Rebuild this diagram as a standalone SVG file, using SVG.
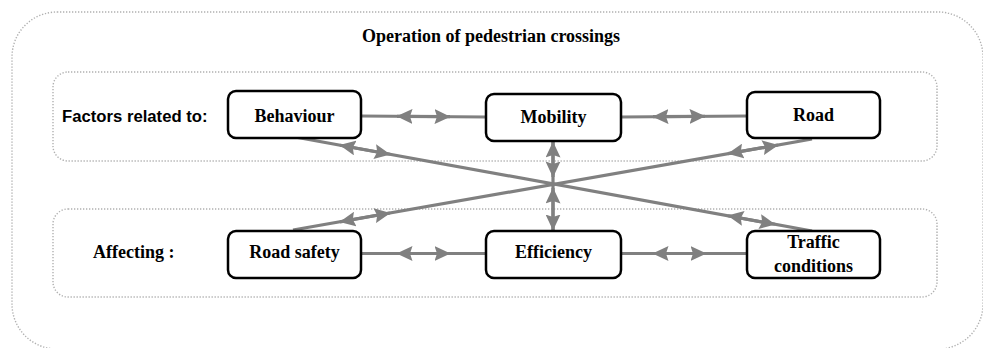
<svg xmlns="http://www.w3.org/2000/svg" width="983" height="348" viewBox="0 0 983 348">
<defs>
<style>
.frame{fill:none;stroke:#b0b0b0;stroke-width:1.4;stroke-dasharray:1.3 1.7}
.box{fill:#fff;stroke:#000;stroke-width:2.5}
.lbl{font-family:"Liberation Serif","Times New Roman",serif;font-weight:bold;font-size:18px;fill:#000;text-anchor:middle}
.side{font-family:"Liberation Serif","Times New Roman",serif;font-weight:bold;font-size:18px;fill:#000}
.sans{font-family:"Liberation Sans",Arial,sans-serif;font-weight:bold;font-size:16.7px;fill:#000}
.ln{stroke:#808080;stroke-width:3.2;fill:none}
.hd{stroke:#808080;stroke-width:3.2;fill:none;marker-start:url(#ah);marker-end:url(#ah)}
</style>
<marker id="ah" markerUnits="userSpaceOnUse" viewBox="0 0 16 15" markerWidth="16" markerHeight="15" refX="15.5" refY="7.5" orient="auto-start-reverse">
<path d="M0,0 L16,7.5 L0,15 L2.5,7.5 z" fill="#808080"/>
</marker>
</defs>
<rect class="frame" x="12" y="12" width="971" height="337" rx="45"/>
<rect class="frame" x="53" y="72" width="884" height="89" rx="15"/>
<rect class="frame" x="53" y="209" width="884" height="88" rx="15"/>
<text class="lbl" x="491" y="42">Operation of pedestrian crossings</text>
<text class="sans" x="62" y="122">Factors related to:</text>
<text class="side" x="93" y="258">Affecting :</text>
<g id="connectors">
<line class="ln" x1="361" y1="116" x2="486" y2="117"/>
<line class="hd" x1="397" y1="116.3" x2="450" y2="116.7"/>
<line class="ln" x1="621" y1="117" x2="747" y2="116"/>
<line class="hd" x1="653" y1="116.7" x2="705" y2="116.3"/>
<line class="ln" x1="361" y1="253.5" x2="486" y2="253.5"/>
<line class="hd" x1="397" y1="253.5" x2="450" y2="253.5"/>
<line class="ln" x1="621" y1="253.5" x2="747" y2="253.5"/>
<line class="hd" x1="653" y1="253.5" x2="706" y2="253.5"/>
<line class="ln" x1="553" y1="141" x2="553" y2="231"/>
<line class="hd" x1="553" y1="142" x2="553" y2="177"/>
<line class="hd" x1="553" y1="188" x2="553" y2="230"/>
<line class="ln" x1="295" y1="137" x2="812" y2="231"/>
<line class="hd" x1="340" y1="145.2" x2="390" y2="154.3"/>
<line class="hd" x1="728" y1="215.7" x2="775" y2="224.3"/>
<line class="ln" x1="293" y1="230" x2="812" y2="139"/>
<line class="hd" x1="340" y1="221.8" x2="390" y2="213"/>
<line class="hd" x1="728" y1="153.7" x2="778" y2="145"/>
</g>
<g id="behaviour"><rect class="box" x="228" y="91" width="133" height="47" rx="8"/><text class="lbl" x="294.5" y="122">Behaviour</text></g>
<g id="mobility"><rect class="box" x="486" y="94" width="135" height="47" rx="8"/><text class="lbl" x="553.5" y="123">Mobility</text></g>
<g id="road"><rect class="box" x="747" y="92" width="133" height="46" rx="8"/><text class="lbl" x="813.5" y="121">Road</text></g>
<g id="road-safety"><rect class="box" x="228" y="231" width="133" height="47" rx="8"/><text class="lbl" x="294.5" y="258">Road safety</text></g>
<g id="efficiency"><rect class="box" x="486" y="231" width="135" height="47" rx="8"/><text class="lbl" x="553.5" y="258">Efficiency</text></g>
<g id="traffic-conditions"><rect class="box" x="747" y="231" width="133" height="47" rx="8"/><text class="lbl" x="813.5" y="248">Traffic</text><text class="lbl" x="813.5" y="272">conditions</text></g>
</svg>
